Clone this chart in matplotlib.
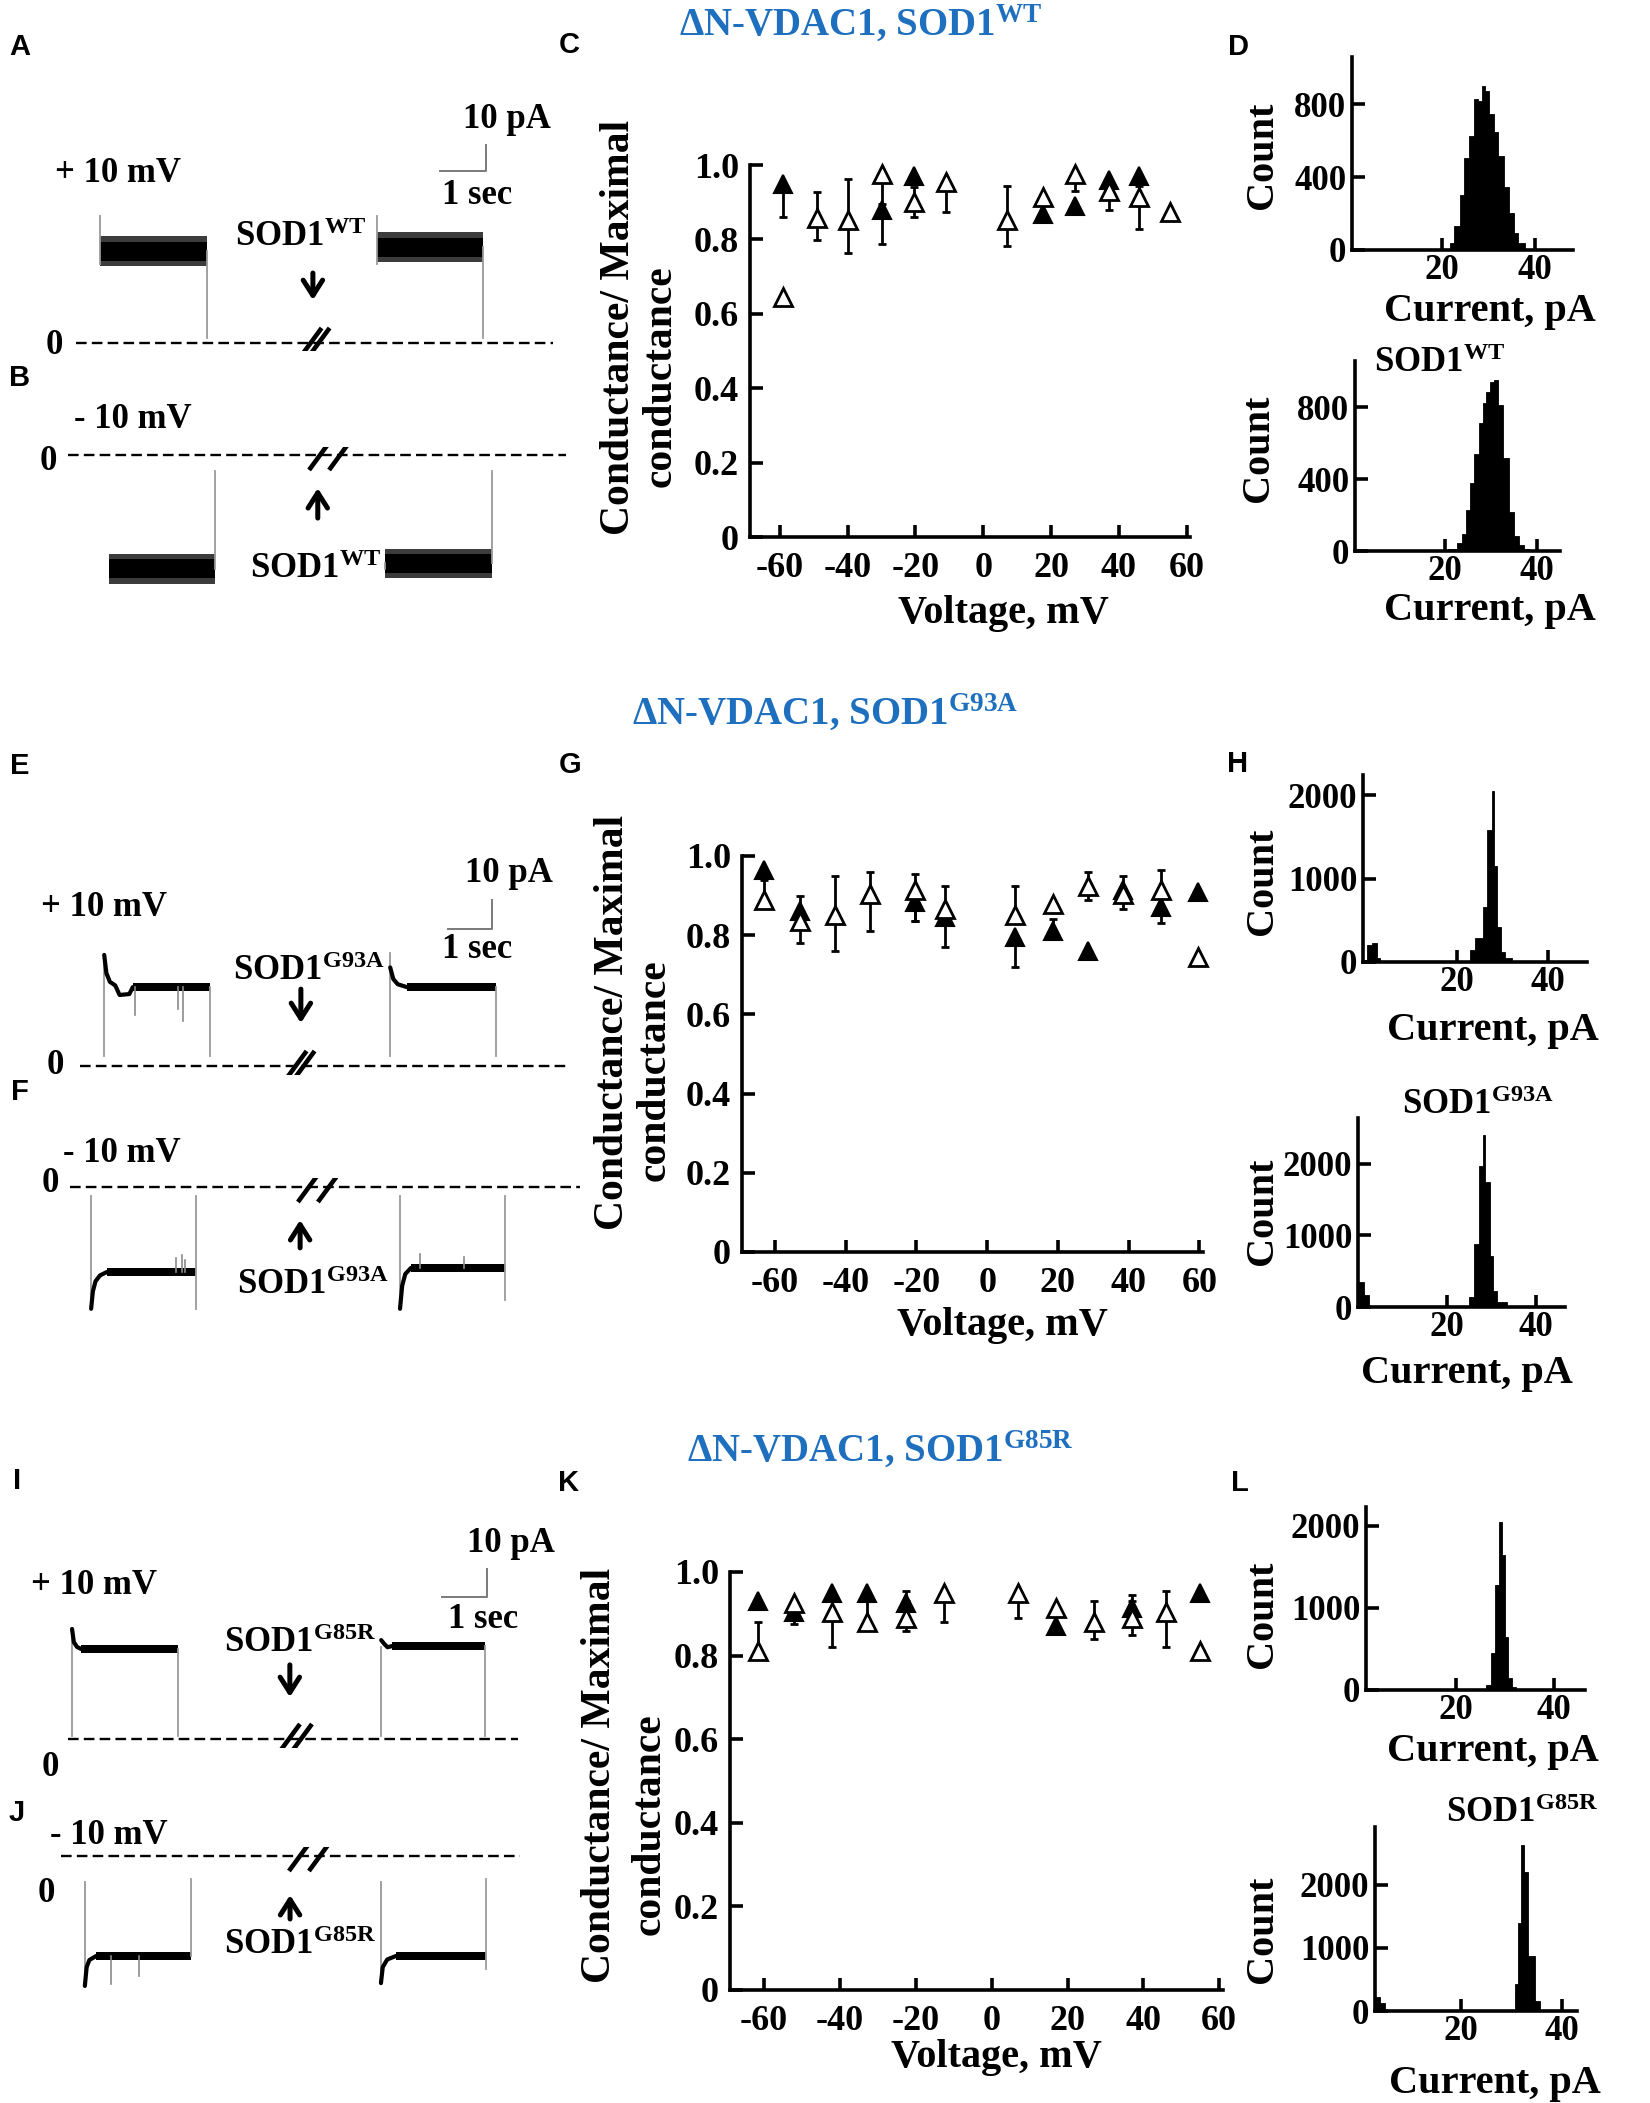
import matplotlib
matplotlib.use('Agg')
import matplotlib.pyplot as plt
import numpy as np

W, H = 1650, 2103
plt.rcParams['font.family'] = ['Liberation Serif', 'DejaVu Serif']
plt.rcParams['font.weight'] = 'bold'
plt.rcParams['axes.unicode_minus'] = False
plt.rcParams['mathtext.fontset'] = 'custom'
plt.rcParams['mathtext.rm'] = 'Liberation Serif:bold'
plt.rcParams['mathtext.bf'] = 'Liberation Serif:bold'
plt.rcParams['mathtext.it'] = 'Liberation Serif:bold:italic'

BLUE = '#1e6fbe'

# ---------------- data: conductance vs voltage ----------------
C_open_x = [-59, -49, -40, -30, -20.5, -11, 7, 17.5, 27, 37, 46, 55]
C_open_y = [0.645, 0.858, 0.853, 0.975, 0.90, 0.955, 0.853, 0.914, 0.975, 0.93, 0.914, 0.873]
C_open_lo = [0, 0.06, 0.09, 0.08, 0.04, 0.08, 0.07, 0, 0.045, 0.05, 0.085, 0]
C_open_hi = [0, 0.07, 0.11, 0, 0.04, 0, 0.09, 0, 0, 0.03, 0.03, 0]
C_fill_x = [-59, -30, -20.5, 17.5, 27, 37, 46]
C_fill_y = [0.95, 0.878, 0.97, 0.868, 0.89, 0.96, 0.97]
C_fill_lo = [0.09, 0.09, 0, 0, 0, 0, 0]
C_fill_hi = [0, 0, 0, 0, 0, 0, 0]

G_open_x = [-63, -53, -43, -33, -20.5, -12, 8, 18.5, 28.5, 38.5, 49, 59.5]
G_open_y = [0.89, 0.835, 0.85, 0.905, 0.915, 0.865, 0.85, 0.88, 0.925, 0.905, 0.915, 0.745]
G_open_lo = [0, 0.055, 0.09, 0.095, 0.08, 0.095, 0, 0, 0.035, 0.04, 0.04, 0]
G_open_hi = [0.05, 0.065, 0.10, 0.055, 0.04, 0.06, 0.075, 0, 0.035, 0.045, 0.05, 0]
G_fill_x = [-63, -53, -20.5, -12, 8, 18.5, 28.5, 38.5, 49, 59.5]
G_fill_y = [0.965, 0.86, 0.885, 0.845, 0.795, 0.81, 0.76, 0.915, 0.87, 0.91]
G_fill_lo = [0, 0, 0.05, 0, 0.075, 0, 0, 0, 0.04, 0]
G_fill_hi = [0, 0, 0, 0, 0, 0.03, 0, 0, 0, 0]

K_open_x = [-61.5, -52, -42, -33, -22.5, -12.5, 7, 17, 27, 37, 46, 55]
K_open_y = [0.81, 0.925, 0.905, 0.88, 0.89, 0.95, 0.95, 0.915, 0.88, 0.89, 0.905, 0.81]
K_open_lo = [0, 0.05, 0.085, 0, 0.03, 0.07, 0.06, 0, 0.04, 0.04, 0.085, 0]
K_open_hi = [0.07, 0, 0, 0.05, 0.04, 0, 0, 0, 0.05, 0.04, 0.05, 0]
K_fill_x = [-61.5, -52, -42, -33, -22.5, 17, 37, 55]
K_fill_y = [0.93, 0.905, 0.95, 0.95, 0.925, 0.87, 0.915, 0.95]
K_fill_lo = [0, 0, 0, 0, 0, 0, 0, 0]
K_fill_hi = [0, 0, 0, 0, 0.03, 0, 0.03, 0]

V_ticks = [-60, -40, -20, 0, 20, 40, 60]
G_ticks = [0, 0.2, 0.4, 0.6, 0.8, 1.0]
G_ticklabels = ['0', '0.2', '0.4', '0.6', '0.8', '1.0']

# ---------------- data: current histograms ----------------
D1_edges = [21.6, 22.6, 23.8, 24.6, 25.7, 26.8, 27.6, 28.6, 29.3, 30.0, 31.1, 32.1, 33.2, 34.3, 35.4, 36.4, 37.9]
D1_counts = [40, 131, 303, 505, 626, 828, 818, 899, 869, 747, 646, 515, 343, 202, 91, 40]
D2_edges = [20.7, 22.5, 23.6, 24.6, 25.5, 26.3, 27.3, 28.2, 28.9, 29.8, 30.7, 31.6, 32.7, 33.8, 34.9, 36.0, 37.1, 38.2]
D2_counts = [10, 43, 97, 227, 378, 540, 713, 822, 886, 940, 951, 811, 519, 216, 86, 32, 10]
H1_low_edges = [0.3, 1.4, 2.5, 3.2]
H1_low_counts = [200, 230, 50]
H1_edges = [22.8, 24.0, 25.7, 26.7, 27.7, 28.1, 28.8, 29.7, 30.6, 32.1]
H1_counts = [146, 293, 659, 1585, 2049, 1146, 415, 122, 49]
H2_low_edges = [0.2, 1.3, 2.5]
H2_low_counts = [343, 171]
H2_edges = [24.9, 26.1, 27.1, 28.1, 28.6, 29.6, 30.4, 31.2, 33.4]
H2_counts = [143, 886, 1971, 2400, 1743, 714, 229, 69]
L1_edges = [26.1, 27.05, 27.9, 28.8, 29.3, 30.0, 30.6, 31.5, 32.3]
L1_counts = [60, 450, 1275, 2050, 1650, 650, 150, 40]
L2_low_edges = [3.0, 4.0, 5.0]
L2_low_counts = [227, 130]
L2_edges = [30.66, 31.3, 32.0, 32.6, 33.3, 34.6, 35.6]
L2_counts = [422, 1396, 2630, 2208, 877, 162]

# ---------------- data: single-channel current traces (s, pA) ----------------
A_start = [0.52, 6.54]; A_end = [2.85, 8.85]; A_level = [34.7, 36.2]; A_stop = [48, 48]
B_start = [0.89, 6.89]; B_end = [3.20, 9.22]; B_level = [-43.0, -40.8]; B_stop = [-43.0, -40.8]; B_etip = [-43.0, -40.8]
E_start = [0.55, 7.05]; E_end = [2.95, 9.45]; E_level = [27.2, 27.2]; E_stop = [38.3, 39.0]; E_etip = [27.2, 27.2]
E_tr_t = [[0.55, 0.60, 0.68, 0.80, 0.90, 1.12, 1.20], [7.05, 7.12, 7.22, 7.43]]
E_tr_y = [[38.3, 32.0, 29.0, 27.8, 24.5, 24.8, 27.2], [34.0, 30.0, 28.2, 27.2]]
E_sp_t = [1.25, 2.22, 2.34]; E_sp_y = [17.6, 19.7, 15.5]
F_start = [0.48, 7.50]; F_end = [2.86, 9.89]; F_level = [-29.3, -27.9]; F_stop = [-42.0, -42.0]; F_etip = [-42.0, -39.0]
F_tr_t = [[0.48, 0.52, 0.58, 0.68, 0.84], [7.50, 7.55, 7.62, 7.75]]
F_tr_y = [[-42.0, -36.0, -32.5, -30.5, -29.3], [-42.0, -34.0, -30.0, -27.9]]
F_sp_t = [2.42, 2.55, 2.62, 7.95, 8.95]; F_sp_y = [-24.5, -23.5, -25.0, -23.0, -24.0]
I_start = [0.09, 6.96]; I_end = [2.44, 9.27]; I_level = [31.6, 32.6]; I_stop = [38.6, 32.3]; I_etip = [31.6, 32.6]
I_tr_t = [[0.09, 0.13, 0.20, 0.29], [6.96, 7.02, 7.10, 7.20]]
I_tr_y = [[38.6, 34.0, 32.3, 31.6], [34.7, 33.5, 32.2, 32.6]]
J_start = [0.53, 7.11]; J_end = [2.89, 9.44]; J_level = [-35.1, -35.1]; J_stop = [-45.6, -44.6]; J_etip = [-35.1, -39.6]
J_tr_t = [[0.53, 0.57, 0.63, 0.78], [7.11, 7.15, 7.25, 7.44]]
J_tr_y = [[-45.6, -39.0, -36.5, -35.1], [-44.6, -39.0, -36.3, -35.1]]
J_sp_t = [1.11, 1.73]; J_sp_y = [-45.0, -42.0]

fig = plt.figure(figsize=(W / 100, H / 100), dpi=100)


def ax_px(left, top, right, bottom):
    return fig.add_axes([left / W, 1 - bottom / H, (right - left) / W, (bottom - top) / H])


def txt(x, y, s, size, **kw):
    ha = kw.pop('ha', 'center')
    va = kw.pop('va', 'center')
    fig.text(x / W, 1 - y / H, s, fontsize=size, ha=ha, va=va, fontweight='bold', **kw)


def letter(x, y, s):
    fig.text(x / W, 1 - y / H, s, fontsize=21, ha='center', va='center',
             fontweight='bold', family=['Liberation Sans', 'DejaVu Sans'])


def style_axes(ax, lab, xpad=11):
    for sp in ['top', 'right']:
        ax.spines[sp].set_visible(False)
    for sp in ['left', 'bottom']:
        ax.spines[sp].set_linewidth(2.6)
    ax.tick_params(direction='in', length=9, width=2.6, labelsize=lab, pad=8)
    ax.tick_params(axis='x', pad=xpad)


def iv_panel(box, xlim, ox, oy, olo, ohi, fx, fy, flo, fhi):
    ax = ax_px(*box)
    ax.set_xlim(*xlim)
    ax.set_ylim(0, 1.0)
    for xs, ys, lo, hi in [(fx, fy, flo, fhi), (ox, oy, olo, ohi)]:
        xs, ys, lo, hi = map(np.asarray, (xs, ys, lo, hi))
        m = (lo > 0) | (hi > 0)
        ax.errorbar(xs[m], ys[m], yerr=[lo[m], hi[m]], fmt='none', ecolor='k',
                    elinewidth=2.0, capsize=3, capthick=2.0, zorder=2, clip_on=False)
    ax.plot(fx, fy, ls='none', marker='^', ms=13, mfc='k', mec='k', mew=1.5, zorder=4, clip_on=False)
    ax.plot(ox, oy, ls='none', marker='^', ms=13, mfc='white', mec='k', mew=2.0, zorder=5, clip_on=False)
    ax.set_xticks(V_ticks)
    ax.set_xticklabels([str(v) for v in V_ticks])
    ax.set_yticks(G_ticks)
    ax.set_yticklabels(G_ticklabels)
    style_axes(ax, 26)
    return ax


def hist_panel(box, xlim, ylim, yticks, parts):
    ax = ax_px(*box)
    for edges, counts in parts:
        e = np.asarray(edges)
        ax.bar(e[:-1], counts, width=np.diff(e), align='edge', color='k', edgecolor='k', lw=0.6)
    ax.set_xlim(*xlim)
    ax.set_ylim(*ylim)
    ax.set_xticks([20, 40])
    ax.set_yticks(yticks)
    ax.set_yticklabels([str(v) for v in yticks])
    style_axes(ax, 25, xpad=3)
    ax.tick_params(axis='y', pad=4)
    return ax


def trace_panel(x0, z0, ps, pa, tmax, ymin, ymax, starts, ends, levels, stops, etips,
                base0, base1, noise, noisy, tr_t=None, tr_y=None, sp_t=None, sp_y=None,
                zero_end=10.0, brk=5.0, brk_sep=8, arrow=None, bar=None):
    left = x0 - 0.5 * ps
    right = x0 + tmax * ps
    top = z0 - ymax * pa
    bottom = z0 - ymin * pa
    ax = ax_px(left, top, right, bottom)
    ax.set_xlim(-0.5, tmax)
    ax.set_ylim(ymin, ymax)
    ax.axis('off')
    # zero-current line
    ax.plot([0, zero_end], [0, 0], color='k', lw=1.7, dashes=(4.5, 2.2), solid_capstyle='butt')
    # break marks
    dx, dy = 11.0 / ps, 15.0 / pa
    for k in range(2):
        tb = brk + k * brk_sep / ps
        ax.plot([tb - dx, tb + dx], [-dy, dy], color='k', lw=3.3, solid_capstyle='butt')
    # traces
    for i in range(len(starts)):
        t0, t1, lv = starts[i], ends[i], levels[i]
        ax.plot([t0, t0], [base0, stops[i]], color='#9a9a9a', lw=1.3)
        ax.plot([t1, t1], [base1, etips[i]], color='#9a9a9a', lw=1.3)
        if noisy:
            ax.fill_between([t0, t1], lv - noise, lv + noise, color='#3c3c3c', lw=0)
            ax.fill_between([t0, t1], lv - 0.65 * noise, lv + 0.65 * noise, color='k', lw=0)
        else:
            ts, ys = tr_t[i], tr_y[i]
            ax.plot(ts, ys, color='k', lw=3.0, solid_capstyle='round')
            ax.fill_between([ts[-1], t1], lv - noise, lv + noise, color='k', lw=0)
    if sp_t is not None:
        for st, sy in zip(sp_t, sp_y):
            idx = 0 if st < starts[1] else 1
            ax.plot([st, st], [levels[idx], sy], color='#8a8a8a', lw=1.2)
    if arrow is not None:
        ta, tail, head = arrow
        ax.annotate('', xy=(ta, head), xytext=(ta, tail),
                    arrowprops=dict(arrowstyle='->, head_length=0.55, head_width=0.35',
                                    lw=3.6, color='k', mutation_scale=20, shrinkA=0, shrinkB=0))
    if bar is not None:
        tb, yb = bar
        ax.plot([tb - 1.0, tb, tb], [yb, yb, yb + 10], color='#7a7a7a', lw=1.4)
    return ax


# ---------------- traces ----------------
trace_panel(76, 343, 46, 2.65, 10.8, -3, 80, A_start, A_end, A_level, A_stop, A_level,
            30, 2, 5.5, True, zero_end=10.37, brk=5.1, brk_sep=8,
            arrow=(5.15, 26.4, 16.2), bar=(8.91, 64.9))
trace_panel(68, 455, 46, 2.65, 11.2, -50, 3, B_start, B_end, B_level, B_stop, B_etip,
            -43, -6, 5.5, True, zero_end=10.83, brk=5.48, brk_sep=20,
            arrow=(5.43, -23.8, -12.5))
trace_panel(80, 1066, 44, 2.9, 11.4, -3, 62, E_start, E_end, E_level, E_stop, E_etip,
            3.5, 3.5, 1.3, False, E_tr_t, E_tr_y, E_sp_t, E_sp_y, zero_end=11.05, brk=4.9,
            brk_sep=8, arrow=(5.02, 26.5, 14.8), bar=(9.36, 47.2))
trace_panel(70, 1187, 44, 2.9, 11.8, -46, 3, F_start, F_end, F_level, F_stop, F_etip,
            -3, -3, 1.3, False, F_tr_t, F_tr_y, F_sp_t, F_sp_y, zero_end=11.6, brk=5.43,
            brk_sep=20, arrow=(5.23, -21.0, -11.4))
trace_panel(68, 1739, 45, 2.85, 10.4, -3, 64, I_start, I_end, I_level, I_stop, I_etip,
            1, 1, 1.4, False, I_tr_t, I_tr_y, zero_end=10.0, brk=4.91, brk_sep=12,
            arrow=(4.93, 26.0, 14.7), bar=(9.31, 49.8))
trace_panel(61, 1856, 45, 2.85, 10.6, -50, 3, J_start, J_end, J_level, J_stop, J_etip,
            -9, -8, 1.4, False, J_tr_t, J_tr_y, J_sp_t, J_sp_y, zero_end=10.2, brk=5.31,
            brk_sep=20, arrow=(5.09, -22.1, -13.7))

# trace texts
TS = 25
txt(118, 173, '+ 10 mV', TS); txt(507, 120, '10 pA', TS); txt(477, 196, '1 sec', TS)
txt(301, 237, r'SOD1$^{\mathrm{WT}}$', TS); txt(54, 345, '0', TS)
txt(133, 420, '- 10 mV', TS); txt(48, 461, '0', TS); txt(316, 570, r'SOD1$^{\mathrm{WT}}$', TS)
txt(104, 908, '+ 10 mV', TS); txt(509, 874, '10 pA', TS); txt(477, 950, '1 sec', TS)
txt(309, 971, r'SOD1$^{\mathrm{G93A}}$', TS); txt(55, 1066, '0', TS)
txt(122, 1153, '- 10 mV', TS); txt(50, 1183, '0', TS); txt(313, 1286, r'SOD1$^{\mathrm{G93A}}$', TS)
txt(94, 1586, '+ 10 mV', TS); txt(511, 1544, '10 pA', TS); txt(483, 1620, '1 sec', TS)
txt(300, 1644, r'SOD1$^{\mathrm{G85R}}$', TS); txt(50, 1767, '0', TS)
txt(109, 1836, '- 10 mV', TS); txt(46, 1894, '0', TS); txt(300, 1946, r'SOD1$^{\mathrm{G85R}}$', TS)

# ---------------- conductance panels ----------------
iv_panel((750, 165, 1190, 537), (-68.8, 61), C_open_x, C_open_y, C_open_lo, C_open_hi,
         C_fill_x, C_fill_y, C_fill_lo, C_fill_hi)
iv_panel((742, 856, 1203, 1252), (-69.3, 61), G_open_x, G_open_y, G_open_lo, G_open_hi,
         G_fill_x, G_fill_y, G_fill_lo, G_fill_hi)
iv_panel((730, 1572, 1223, 1990), (-69.0, 61), K_open_x, K_open_y, K_open_lo, K_open_hi,
         K_fill_x, K_fill_y, K_fill_lo, K_fill_hi)

LS = 30
for (x1, x2, yc1, yc2, vx, vy, tx, ty, ttl) in [
        (619, 661, 327, 376, 1003, 614, 861, 23, r'ΔN-VDAC1, SOD1$^{\mathrm{WT}}$'),
        (613, 655, 1022, 1070, 1002, 1326, 825, 712, r'ΔN-VDAC1, SOD1$^{\mathrm{G93A}}$'),
        (600, 650, 1775, 1824, 996, 2058, 880, 1449, r'ΔN-VDAC1, SOD1$^{\mathrm{G85R}}$')]:
    txt(x1, yc1, 'Conductance/ Maximal', LS, rotation=90)
    txt(x2, yc2, 'conductance', LS, rotation=90)
    txt(vx, vy, 'Voltage, mV', 29)
    txt(tx, ty, ttl, 28, color=BLUE)

# ---------------- histograms ----------------
hist_panel((1352, 57, 1573, 250), (0.5, 48.2), (0, 1058), [0, 400, 800], [(D1_edges, D1_counts)])
hist_panel((1355, 361, 1560, 551), (0.4, 45), (0, 1056), [0, 400, 800], [(D2_edges, D2_counts)])
hist_panel((1363, 775, 1587, 962), (-0.6, 48.6), (0, 2240), [0, 1000, 2000],
           [(H1_low_edges, H1_low_counts), (H1_edges, H1_counts)])
hist_panel((1358, 1118, 1565, 1307), (0, 46.5), (0, 2640), [0, 1000, 2000],
           [(H2_low_edges, H2_low_counts), (H2_edges, H2_counts)])
hist_panel((1366, 1507, 1585, 1690), (1.6, 46.3), (0, 2230), [0, 1000, 2000], [(L1_edges, L1_counts)])
hist_panel((1375, 1827, 1577, 2011), (3.0, 43), (0, 2920), [0, 1000, 2000],
           [(L2_low_edges, L2_low_counts), (L2_edges, L2_counts)])

for (cx, cy, ux, uy) in [(1262, 155, 1490, 312), (1258, 448, 1490, 610),
                         (1262, 881, 1493, 1030), (1262, 1211, 1467, 1373),
                         (1263, 1614, 1493, 1751), (1263, 1929, 1495, 2083)]:
    txt(cx, cy, 'Count', 29, rotation=90)
    txt(ux, uy, 'Current, pA', 29)
txt(1440, 363, r'SOD1$^{\mathrm{WT}}$', 25)
txt(1478, 1105, r'SOD1$^{\mathrm{G93A}}$', 25)
txt(1522, 1813, r'SOD1$^{\mathrm{G85R}}$', 25)

# panel letters
for (x, y, s) in [(20, 47, 'A'), (20, 378, 'B'), (569, 45, 'C'), (1238, 47, 'D'),
                  (20, 766, 'E'), (20, 1092, 'F'), (570, 765, 'G'), (1238, 764, 'H'),
                  (17, 1481, 'I'), (17, 1813, 'J'), (569, 1483, 'K'), (1240, 1483, 'L')]:
    letter(x, y, s)

fig.savefig('out.png', dpi=100, facecolor='white')
